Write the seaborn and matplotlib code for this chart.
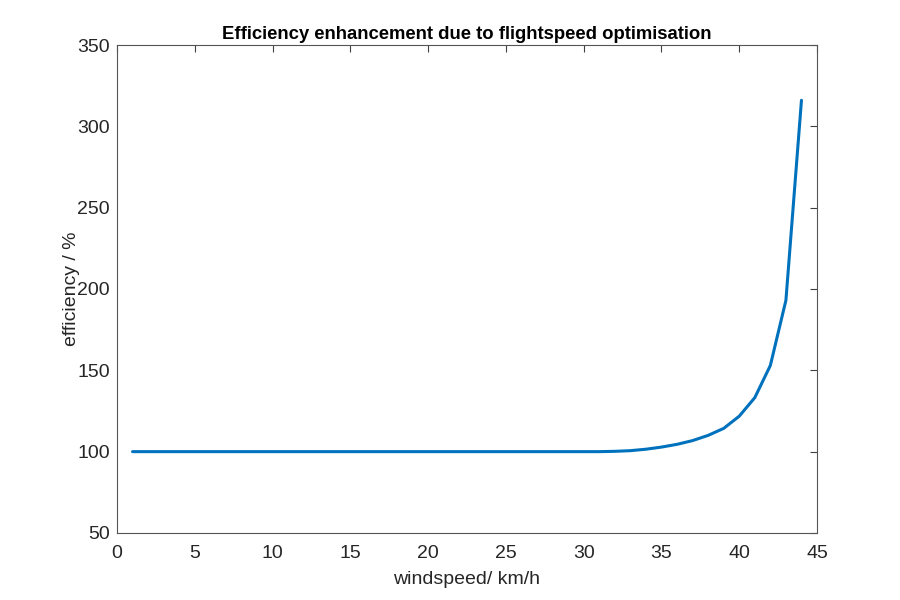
import matplotlib
matplotlib.use("Agg")
import matplotlib.pyplot as plt
import pandas as pd
import seaborn as sns

windspeed = list(range(1, 45))
efficiency = [100.0] * 31 + [100.2, 100.6, 101.5, 102.8, 104.5, 106.8, 110.0,
                             114.3, 121.8, 133.2, 153.0, 193.0, 316.0]

df = pd.DataFrame({"windspeed": windspeed, "efficiency": efficiency})

sns.set_style("white")
plt.rcParams["font.family"] = ["Liberation Sans", "DejaVu Sans"]

fig = plt.figure(figsize=(9, 6), dpi=100)
ax = fig.add_axes([0.13, 0.1117, 0.7778, 0.8133])
sns.lineplot(data=df, x="windspeed", y="efficiency", color="#0072BD",
             linewidth=2.2, ax=ax)

ax.set_xlim(0, 45)
ax.set_ylim(50, 350)
ax.set_xticks(range(0, 46, 5))
ax.set_yticks(range(50, 351, 50))
ax.tick_params(direction="in", length=5, width=0.8, colors="#404040",
               labelcolor="#262626", labelsize=14, top=True, right=True,
               labeltop=False, labelright=False)
ax.tick_params(axis="x", pad=9)
ax.tick_params(axis="y", pad=5)
for side in ax.spines.values():
    side.set_color("#555555")
    side.set_linewidth(0.8)
ax.set_xlabel("windspeed/ km/h", fontsize=14, color="#262626", labelpad=6)
ax.set_ylabel("efficiency / %", fontsize=14, color="#262626", labelpad=-2)
ax.set_title("Efficiency enhancement due to flightspeed optimisation",
             fontsize=13.3, fontweight="bold", color="black", pad=4)

fig.savefig("out.png", dpi=100)
